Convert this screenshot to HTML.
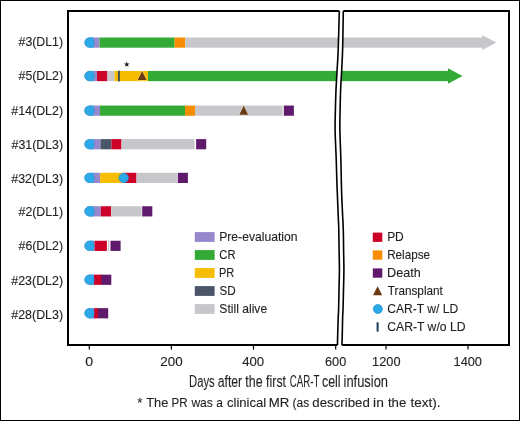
<!DOCTYPE html>
<html><head><meta charset="utf-8"><title>Swimmer plot</title>
<style>html,body{margin:0;padding:0;background:#fff;} svg{display:block;will-change:transform;} body{font-family:"Liberation Sans",sans-serif;}</style>
</head><body>
<svg width="520" height="421" viewBox="0 0 520 421" font-family="Liberation Sans, sans-serif">
<rect x="0" y="0" width="520" height="421" fill="#fff"/>
<rect x="0.5" y="0.5" width="519" height="420" fill="none" stroke="#000" stroke-width="1"/>
<rect x="89.20" y="37.50" width="10.30" height="10.2" fill="#9787CC"/>
<rect x="99.50" y="37.50" width="75.10" height="10.2" fill="#33AA35"/>
<rect x="174.60" y="37.50" width="10.70" height="10.2" fill="#F78D00"/>
<rect x="185.30" y="37.50" width="297.70" height="10.2" fill="#C7C6CB"/>
<polygon points="482.30,35.15 496.30,42.60 482.30,50.05" fill="#C7C6CB"/>
<circle cx="89.4" cy="42.60" r="4.75" fill="#2CA9E8" stroke="#2388C8" stroke-width="0.7"/>
<rect x="89.4" y="37.50" width="4.2" height="10.20" fill="#2CA9E8"/>
<text x="18.54" y="46.10" font-size="12.32" textLength="44.54" lengthAdjust="spacingAndGlyphs" fill="#231F20" stroke="#231F20" stroke-width="0.12">#3(DL1)</text>
<rect x="89.20" y="70.95" width="7.80" height="10.2" fill="#9787CC"/>
<rect x="97.00" y="70.95" width="10.40" height="10.2" fill="#CC0028"/>
<rect x="107.40" y="70.95" width="7.10" height="10.2" fill="#C7C6CB"/>
<rect x="114.50" y="70.95" width="33.50" height="10.2" fill="#F6BC00"/>
<rect x="148.00" y="70.95" width="300.50" height="10.2" fill="#33AA35"/>
<polygon points="448.00,68.35 462.50,76.05 448.00,83.75" fill="#33AA35"/>
<polygon points="137.70,80.05 142.10,71.15 146.50,80.05" fill="#6A3A12" stroke="#fff" stroke-opacity="0.55" stroke-width="0.9" paint-order="stroke"/>
<rect x="118.10" y="70.65" width="1.6" height="10.799999999999999" fill="#1C3A5E"/>
<polygon points="126.80,61.40 127.53,63.39 129.65,63.47 127.99,64.79 128.56,66.83 126.80,65.65 125.04,66.83 125.61,64.79 123.95,63.47 126.07,63.39" fill="#231F20"/>
<circle cx="89.4" cy="76.05" r="4.75" fill="#2CA9E8" stroke="#2388C8" stroke-width="0.7"/>
<rect x="89.4" y="70.95" width="4.2" height="10.20" fill="#2CA9E8"/>
<text x="18.54" y="79.90" font-size="12.32" textLength="44.54" lengthAdjust="spacingAndGlyphs" fill="#231F20" stroke="#231F20" stroke-width="0.12">#5(DL2)</text>
<rect x="89.20" y="105.55" width="10.80" height="10.2" fill="#9787CC"/>
<rect x="100.00" y="105.55" width="85.00" height="10.2" fill="#33AA35"/>
<rect x="185.00" y="105.55" width="10.00" height="10.2" fill="#F78D00"/>
<rect x="195.00" y="105.55" width="87.60" height="10.2" fill="#C7C6CB"/>
<rect x="283.80" y="105.55" width="10.1" height="10.2" fill="#5F1A6C"/>
<polygon points="239.30,114.65 243.70,105.75 248.10,114.65" fill="#6A3A12" stroke="#fff" stroke-opacity="0.55" stroke-width="0.9" paint-order="stroke"/>
<circle cx="89.4" cy="110.65" r="4.75" fill="#2CA9E8" stroke="#2388C8" stroke-width="0.7"/>
<rect x="89.4" y="105.55" width="4.2" height="10.20" fill="#2CA9E8"/>
<text x="11.24" y="114.50" font-size="12.32" textLength="51.86" lengthAdjust="spacingAndGlyphs" fill="#231F20" stroke="#231F20" stroke-width="0.12">#14(DL2)</text>
<rect x="89.20" y="139.10" width="11.30" height="10.2" fill="#9787CC"/>
<rect x="100.50" y="139.10" width="10.90" height="10.2" fill="#4A5568"/>
<rect x="111.40" y="139.10" width="10.10" height="10.2" fill="#CC0028"/>
<rect x="121.50" y="139.10" width="73.10" height="10.2" fill="#C7C6CB"/>
<rect x="196.10" y="139.10" width="10.1" height="10.2" fill="#5F1A6C"/>
<circle cx="89.4" cy="144.20" r="4.75" fill="#2CA9E8" stroke="#2388C8" stroke-width="0.7"/>
<rect x="89.4" y="139.10" width="4.2" height="10.20" fill="#2CA9E8"/>
<text x="11.64" y="148.50" font-size="12.32" textLength="51.45" lengthAdjust="spacingAndGlyphs" fill="#231F20" stroke="#231F20" stroke-width="0.12">#31(DL3)</text>
<rect x="89.20" y="172.80" width="11.00" height="10.2" fill="#9787CC"/>
<rect x="100.20" y="172.80" width="23.80" height="10.2" fill="#F6BC00"/>
<rect x="124.00" y="172.80" width="12.50" height="10.2" fill="#CC0028"/>
<rect x="136.50" y="172.80" width="40.60" height="10.2" fill="#C7C6CB"/>
<rect x="177.80" y="172.80" width="10.1" height="10.2" fill="#5F1A6C"/>
<circle cx="89.4" cy="177.90" r="4.75" fill="#2CA9E8" stroke="#2388C8" stroke-width="0.7"/>
<rect x="89.4" y="172.80" width="4.2" height="10.20" fill="#2CA9E8"/>
<circle cx="123.70" cy="177.90" r="4.75" fill="#2CA9E8" stroke="#2388C8" stroke-width="0.7"/>
<text x="11.24" y="182.50" font-size="12.32" textLength="51.86" lengthAdjust="spacingAndGlyphs" fill="#231F20" stroke="#231F20" stroke-width="0.12">#32(DL3)</text>
<rect x="89.20" y="206.25" width="11.60" height="10.2" fill="#9787CC"/>
<rect x="100.80" y="206.25" width="10.40" height="10.2" fill="#CC0028"/>
<rect x="111.20" y="206.25" width="30.40" height="10.2" fill="#C7C6CB"/>
<rect x="142.20" y="206.25" width="10.1" height="10.2" fill="#5F1A6C"/>
<circle cx="89.4" cy="211.35" r="4.75" fill="#2CA9E8" stroke="#2388C8" stroke-width="0.7"/>
<rect x="89.4" y="206.25" width="4.2" height="10.20" fill="#2CA9E8"/>
<text x="18.54" y="215.90" font-size="12.32" textLength="44.54" lengthAdjust="spacingAndGlyphs" fill="#231F20" stroke="#231F20" stroke-width="0.12">#2(DL1)</text>
<rect x="89.20" y="240.75" width="5.30" height="10.2" fill="#9787CC"/>
<rect x="94.50" y="240.75" width="12.40" height="10.2" fill="#CC0028"/>
<rect x="108.00" y="240.75" width="1.20" height="10.2" fill="#C7C6CB"/>
<rect x="110.50" y="240.75" width="10.1" height="10.2" fill="#5F1A6C"/>
<circle cx="89.4" cy="245.85" r="4.75" fill="#2CA9E8" stroke="#2388C8" stroke-width="0.7"/>
<rect x="89.4" y="240.75" width="4.2" height="10.20" fill="#2CA9E8"/>
<text x="18.54" y="249.90" font-size="12.32" textLength="44.54" lengthAdjust="spacingAndGlyphs" fill="#231F20" stroke="#231F20" stroke-width="0.12">#6(DL2)</text>
<rect x="89.20" y="274.65" width="4.80" height="10.2" fill="#9787CC"/>
<rect x="94.00" y="274.65" width="8.00" height="10.2" fill="#CC0028"/>
<rect x="101.20" y="274.65" width="10.1" height="10.2" fill="#5F1A6C"/>
<circle cx="89.4" cy="279.75" r="4.75" fill="#2CA9E8" stroke="#2388C8" stroke-width="0.7"/>
<rect x="89.4" y="274.65" width="4.2" height="10.20" fill="#2CA9E8"/>
<text x="11.24" y="284.50" font-size="12.32" textLength="51.86" lengthAdjust="spacingAndGlyphs" fill="#231F20" stroke="#231F20" stroke-width="0.12">#23(DL2)</text>
<rect x="89.20" y="308.15" width="4.80" height="10.2" fill="#9787CC"/>
<rect x="94.00" y="308.15" width="4.60" height="10.2" fill="#CC0028"/>
<rect x="98.10" y="308.15" width="10.1" height="10.2" fill="#5F1A6C"/>
<circle cx="89.4" cy="313.25" r="4.75" fill="#2CA9E8" stroke="#2388C8" stroke-width="0.7"/>
<rect x="89.4" y="308.15" width="4.2" height="10.20" fill="#2CA9E8"/>
<text x="11.24" y="318.50" font-size="12.32" textLength="51.86" lengthAdjust="spacingAndGlyphs" fill="#231F20" stroke="#231F20" stroke-width="0.12">#28(DL3)</text>
<path d="M339.10,11.00 C338.92,17.50 338.37,40.17 338.00,50.00 C337.63,59.83 337.27,63.33 336.90,70.00 C336.53,76.67 336.08,83.33 335.80,90.00 C335.52,96.67 335.35,103.33 335.20,110.00 C335.05,116.67 334.76,121.67 334.90,130.00 C335.04,138.33 335.77,151.67 336.05,160.00 C336.33,168.33 336.41,174.17 336.60,180.00 C336.79,185.83 336.97,189.17 337.20,195.00 C337.43,200.83 337.77,209.17 338.00,215.00 C338.23,220.83 338.45,224.17 338.60,230.00 C338.75,235.83 338.80,243.33 338.90,250.00 C339.00,256.67 339.22,263.33 339.20,270.00 C339.18,276.67 338.93,283.33 338.80,290.00 C338.67,296.67 338.53,305.33 338.40,310.00 C338.27,314.67 338.17,313.33 338.00,318.00 C337.83,322.67 337.52,333.50 337.40,338.00 C337.28,342.50 337.32,343.83 337.30,345.00 L342.10,345.00 L342.40,338.00 L342.80,318.00 L343.20,310.00 L343.70,290.00 L344.10,270.00 L343.80,250.00 L343.50,230.00 L342.80,215.00 L341.90,195.00 L341.50,180.00 L341.10,160.00 L340.10,130.00 L340.30,110.00 L340.80,90.00 L341.90,70.00 L342.80,50.00 L343.50,11.00 Z" fill="#fff"/>
<path d="M339.30,11 L68,11 L68,345 L337.50,345" fill="none" stroke="#000" stroke-width="2"/>
<path d="M343.30,11 L509,11 L509,345 L341.90,345" fill="none" stroke="#000" stroke-width="2"/>
<path d="M339.30,11.00 C339.12,17.50 338.57,40.17 338.20,50.00 C337.83,59.83 337.47,63.33 337.10,70.00 C336.73,76.67 336.28,83.33 336.00,90.00 C335.72,96.67 335.55,103.33 335.40,110.00 C335.25,116.67 334.96,121.67 335.10,130.00 C335.24,138.33 335.97,151.67 336.25,160.00 C336.53,168.33 336.61,174.17 336.80,180.00 C336.99,185.83 337.17,189.17 337.40,195.00 C337.63,200.83 337.97,209.17 338.20,215.00 C338.43,220.83 338.65,224.17 338.80,230.00 C338.95,235.83 339.00,243.33 339.10,250.00 C339.20,256.67 339.42,263.33 339.40,270.00 C339.38,276.67 339.13,283.33 339.00,290.00 C338.87,296.67 338.73,305.33 338.60,310.00 C338.47,314.67 338.37,313.33 338.20,318.00 C338.03,322.67 337.72,333.50 337.60,338.00 C337.48,342.50 337.52,343.83 337.50,345.00" fill="none" stroke="#000" stroke-width="1.6"/>
<path d="M343.30,11.00 C343.18,17.50 342.87,40.17 342.60,50.00 C342.33,59.83 342.03,63.33 341.70,70.00 C341.37,76.67 340.87,83.33 340.60,90.00 C340.33,96.67 340.22,103.33 340.10,110.00 C339.98,116.67 339.77,121.67 339.90,130.00 C340.03,138.33 340.67,151.67 340.90,160.00 C341.13,168.33 341.17,174.17 341.30,180.00 C341.43,185.83 341.48,189.17 341.70,195.00 C341.92,200.83 342.33,209.17 342.60,215.00 C342.87,220.83 343.13,224.17 343.30,230.00 C343.47,235.83 343.50,243.33 343.60,250.00 C343.70,256.67 343.92,263.33 343.90,270.00 C343.88,276.67 343.65,283.33 343.50,290.00 C343.35,296.67 343.15,305.33 343.00,310.00 C342.85,314.67 342.73,313.33 342.60,318.00 C342.47,322.67 342.32,333.50 342.20,338.00 C342.08,342.50 341.95,343.83 341.90,345.00" fill="none" stroke="#000" stroke-width="1.6"/>
<line x1="89.3" y1="345" x2="89.3" y2="349.6" stroke="#000" stroke-width="1.2"/>
<text x="85.33" y="365.70" font-size="12.17" textLength="7.88" lengthAdjust="spacingAndGlyphs" fill="#231F20" stroke="#231F20" stroke-width="0.12">0</text>
<line x1="171.4" y1="345" x2="171.4" y2="349.6" stroke="#000" stroke-width="1.2"/>
<text x="160.33" y="365.70" font-size="12.17" textLength="22.39" lengthAdjust="spacingAndGlyphs" fill="#231F20" stroke="#231F20" stroke-width="0.12">200</text>
<line x1="253.5" y1="345" x2="253.5" y2="349.6" stroke="#000" stroke-width="1.2"/>
<text x="242.24" y="365.70" font-size="12.17" textLength="21.97" lengthAdjust="spacingAndGlyphs" fill="#231F20" stroke="#231F20" stroke-width="0.12">400</text>
<line x1="335.7" y1="345" x2="335.7" y2="349.6" stroke="#000" stroke-width="1.2"/>
<text x="325.06" y="365.70" font-size="12.17" textLength="21.23" lengthAdjust="spacingAndGlyphs" fill="#231F20" stroke="#231F20" stroke-width="0.12">600</text>
<line x1="386.0" y1="345" x2="386.0" y2="349.6" stroke="#000" stroke-width="1.2"/>
<text x="372.14" y="365.70" font-size="12.17" textLength="28.40" lengthAdjust="spacingAndGlyphs" fill="#231F20" stroke="#231F20" stroke-width="0.12">1200</text>
<line x1="468.0" y1="345" x2="468.0" y2="349.6" stroke="#000" stroke-width="1.2"/>
<text x="453.54" y="365.70" font-size="12.17" textLength="28.40" lengthAdjust="spacingAndGlyphs" fill="#231F20" stroke="#231F20" stroke-width="0.12">1400</text>
<rect x="194.8" y="232.10" width="19.8" height="9.8" fill="#9787CC"/>
<text x="219.23" y="240.60" font-size="12.17" textLength="78.30" lengthAdjust="spacingAndGlyphs" fill="#231F20" stroke="#231F20" stroke-width="0.12">Pre-evaluation</text>
<rect x="194.8" y="250.10" width="19.8" height="9.8" fill="#33AA35"/>
<text x="219.34" y="258.60" font-size="12.17" textLength="16.22" lengthAdjust="spacingAndGlyphs" fill="#231F20" stroke="#231F20" stroke-width="0.12">CR</text>
<rect x="194.8" y="268.10" width="19.8" height="9.8" fill="#F6BC00"/>
<text x="219.02" y="276.60" font-size="12.17" textLength="15.33" lengthAdjust="spacingAndGlyphs" fill="#231F20" stroke="#231F20" stroke-width="0.12">PR</text>
<rect x="194.8" y="286.10" width="19.8" height="9.8" fill="#4A5568"/>
<text x="219.38" y="294.60" font-size="12.17" textLength="16.20" lengthAdjust="spacingAndGlyphs" fill="#231F20" stroke="#231F20" stroke-width="0.12">SD</text>
<rect x="194.8" y="304.10" width="19.8" height="9.8" fill="#C7C6CB"/>
<text x="219.35" y="312.60" font-size="12.17" textLength="47.80" lengthAdjust="spacingAndGlyphs" fill="#231F20" stroke="#231F20" stroke-width="0.12">Still alive</text>
<rect x="372.8" y="232.60" width="9.5" height="9.3" fill="#CC0028"/>
<text x="387.14" y="240.70" font-size="12.17" textLength="16.65" lengthAdjust="spacingAndGlyphs" fill="#231F20" stroke="#231F20" stroke-width="0.12">PD</text>
<rect x="372.8" y="250.40" width="9.5" height="9.3" fill="#F78D00"/>
<text x="387.17" y="258.70" font-size="12.17" textLength="42.85" lengthAdjust="spacingAndGlyphs" fill="#231F20" stroke="#231F20" stroke-width="0.12">Relapse</text>
<rect x="372.8" y="268.40" width="9.5" height="9.3" fill="#5F1A6C"/>
<text x="387.09" y="276.70" font-size="12.17" textLength="33.67" lengthAdjust="spacingAndGlyphs" fill="#231F20" stroke="#231F20" stroke-width="0.12">Death</text>
<polygon points="373,295.30 377.6,286.30 382.2,295.30" fill="#6A3A12"/>
<text x="387.87" y="294.70" font-size="12.17" textLength="54.92" lengthAdjust="spacingAndGlyphs" fill="#231F20" stroke="#231F20" stroke-width="0.12">Transplant</text>
<circle cx="377.85" cy="309.00" r="4.5" fill="#2CA9E8" stroke="#2388C8" stroke-width="0.7"/>
<text x="387.20" y="312.70" font-size="12.17" textLength="70.96" lengthAdjust="spacingAndGlyphs" fill="#231F20" stroke="#231F20" stroke-width="0.12">CAR-T w/ LD</text>
<rect x="376.6" y="322.30" width="2.0" height="9.3" fill="#1C3A5E"/>
<text x="387.19" y="330.70" font-size="12.17" textLength="78.39" lengthAdjust="spacingAndGlyphs" fill="#231F20" stroke="#231F20" stroke-width="0.12">CAR-T w/o LD</text>
<text x="189.00" y="386.80" font-size="15.80" textLength="25.68" lengthAdjust="spacingAndGlyphs" fill="#231F20" stroke="#231F20" stroke-width="0.1">Days</text>
<text x="217.71" y="386.80" font-size="15.80" textLength="24.49" lengthAdjust="spacingAndGlyphs" fill="#231F20" stroke="#231F20" stroke-width="0.1">after</text>
<text x="245.31" y="386.80" font-size="15.80" textLength="17.25" lengthAdjust="spacingAndGlyphs" fill="#231F20" stroke="#231F20" stroke-width="0.1">the</text>
<text x="266.12" y="386.80" font-size="15.80" textLength="19.86" lengthAdjust="spacingAndGlyphs" fill="#231F20" stroke="#231F20" stroke-width="0.1">first</text>
<text x="289.71" y="386.80" font-size="15.80" textLength="29.68" lengthAdjust="spacingAndGlyphs" fill="#231F20" stroke="#231F20" stroke-width="0.1">CAR-T</text>
<text x="321.90" y="386.80" font-size="15.80" textLength="18.72" lengthAdjust="spacingAndGlyphs" fill="#231F20" stroke="#231F20" stroke-width="0.1">cell</text>
<text x="343.56" y="386.80" font-size="15.80" textLength="44.50" lengthAdjust="spacingAndGlyphs" fill="#231F20" stroke="#231F20" stroke-width="0.1">infusion</text>
<text x="137.30" y="406.50" font-size="12.46" textLength="5.19" lengthAdjust="spacingAndGlyphs" fill="#231F20" stroke="#231F20" stroke-width="0.12">*</text>
<text x="146.24" y="406.50" font-size="12.46" textLength="22.07" lengthAdjust="spacingAndGlyphs" fill="#231F20" stroke="#231F20" stroke-width="0.12">The</text>
<text x="171.48" y="406.50" font-size="12.46" textLength="15.99" lengthAdjust="spacingAndGlyphs" fill="#231F20" stroke="#231F20" stroke-width="0.12">PR</text>
<text x="191.40" y="406.50" font-size="12.46" textLength="21.50" lengthAdjust="spacingAndGlyphs" fill="#231F20" stroke="#231F20" stroke-width="0.12">was</text>
<text x="216.33" y="406.50" font-size="12.46" textLength="6.59" lengthAdjust="spacingAndGlyphs" fill="#231F20" stroke="#231F20" stroke-width="0.12">a</text>
<text x="226.98" y="406.50" font-size="12.46" textLength="39.29" lengthAdjust="spacingAndGlyphs" fill="#231F20" stroke="#231F20" stroke-width="0.12">clinical</text>
<text x="268.74" y="406.50" font-size="12.46" textLength="20.56" lengthAdjust="spacingAndGlyphs" fill="#231F20" stroke="#231F20" stroke-width="0.12">MR</text>
<text x="292.58" y="406.50" font-size="12.46" textLength="16.63" lengthAdjust="spacingAndGlyphs" fill="#231F20" stroke="#231F20" stroke-width="0.12">(as</text>
<text x="312.37" y="406.50" font-size="12.46" textLength="57.40" lengthAdjust="spacingAndGlyphs" fill="#231F20" stroke="#231F20" stroke-width="0.12">described</text>
<text x="373.10" y="406.50" font-size="12.46" textLength="10.74" lengthAdjust="spacingAndGlyphs" fill="#231F20" stroke="#231F20" stroke-width="0.12">in</text>
<text x="387.90" y="406.50" font-size="12.46" textLength="18.40" lengthAdjust="spacingAndGlyphs" fill="#231F20" stroke="#231F20" stroke-width="0.12">the</text>
<text x="410.40" y="406.50" font-size="12.46" textLength="30.06" lengthAdjust="spacingAndGlyphs" fill="#231F20" stroke="#231F20" stroke-width="0.12">text).</text>
</svg>
</body></html>
